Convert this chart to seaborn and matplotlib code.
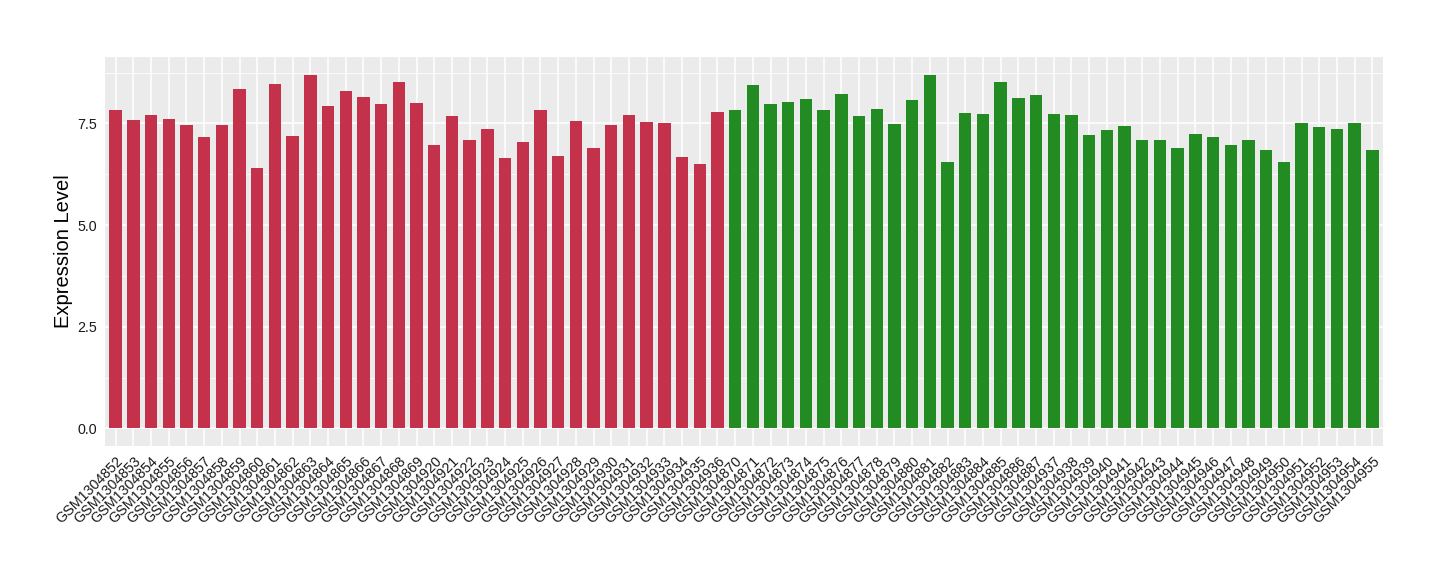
import matplotlib
matplotlib.use("Agg")
import matplotlib.pyplot as plt
import seaborn as sns
import pandas as pd
from matplotlib.ticker import MultipleLocator

# sample ids, in plotted order
red_samples = [f"GSM{n}" for n in list(range(1304852, 1304870)) + list(range(1304920, 1304937))]
green_samples = [f"GSM{n}" for n in list(range(1304870, 1304888)) + list(range(1304937, 1304956))]

red_values = [7.84, 7.59, 7.71, 7.62, 7.47, 7.17, 7.47, 8.35, 6.41, 8.47,
              7.20, 8.70, 7.93, 8.30, 8.16, 7.98, 8.52, 8.01,
              6.98, 7.69, 7.10, 7.37, 6.66, 7.05, 7.84, 6.71, 7.57, 6.90,
              7.47, 7.71, 7.54, 7.52, 6.68, 6.51, 7.79]
green_values = [7.84, 8.45, 7.98, 8.03, 8.11, 7.84, 8.23, 7.69, 7.86, 7.49,
                8.08, 8.70, 6.54, 7.76, 7.74, 8.52, 8.13, 8.20,
                7.74, 7.71, 7.22, 7.35, 7.44, 7.10, 7.10, 6.90, 7.25, 7.17,
                6.98, 7.10, 6.85, 6.54, 7.52, 7.42, 7.37, 7.52, 6.85]

df = pd.DataFrame({
    "sample": red_samples + green_samples,
    "value": red_values + green_values,
    "group": ["red"] * len(red_samples) + ["green"] * len(green_samples),
})

sns.set_theme(style="darkgrid")
plt.rcParams["font.family"] = ["Liberation Sans", "DejaVu Sans"]

fig = plt.figure(figsize=(14.4, 5.8), dpi=100)
ax = fig.add_axes([105 / 1440, 1 - 446 / 580, (1383 - 105) / 1440, (446 - 57) / 580])

sns.barplot(data=df, x="sample", y="value", hue="group", order=df["sample"],
            palette={"red": "#C3314A", "green": "#228B22"}, dodge=False,
            width=0.7, legend=False, saturation=1, linewidth=0, ax=ax)

ax.set_facecolor("#EBEBEB")
ax.set_xlim(-0.6, len(df) - 0.4)
ax.set_ylim(-0.435, 9.135)
ax.yaxis.set_major_locator(MultipleLocator(2.5))
ax.yaxis.set_minor_locator(MultipleLocator(1.25))
ax.set_yticks([0, 2.5, 5, 7.5])
ax.set_yticklabels(["0.0", "2.5", "5.0", "7.5"])
ax.grid(which="major", color="white", linewidth=1.1)
ax.grid(which="minor", axis="y", color="white", linewidth=0.55)
ax.set_axisbelow(True)
for s in ax.spines.values():
    s.set_visible(False)

ax.tick_params(axis="both", which="major", length=3.5, width=0.8, color="#333333",
               labelsize=10.3, labelcolor="#1A1A1A", pad=2)
ax.tick_params(axis="y", which="minor", length=0)
plt.setp(ax.get_xticklabels(), rotation=45, ha="right", rotation_mode="anchor")

ax.set_xlabel("")
ax.set_ylabel("Expression Level", fontsize=14.5, color="black", labelpad=3)

fig.savefig("out.png", dpi=100)
